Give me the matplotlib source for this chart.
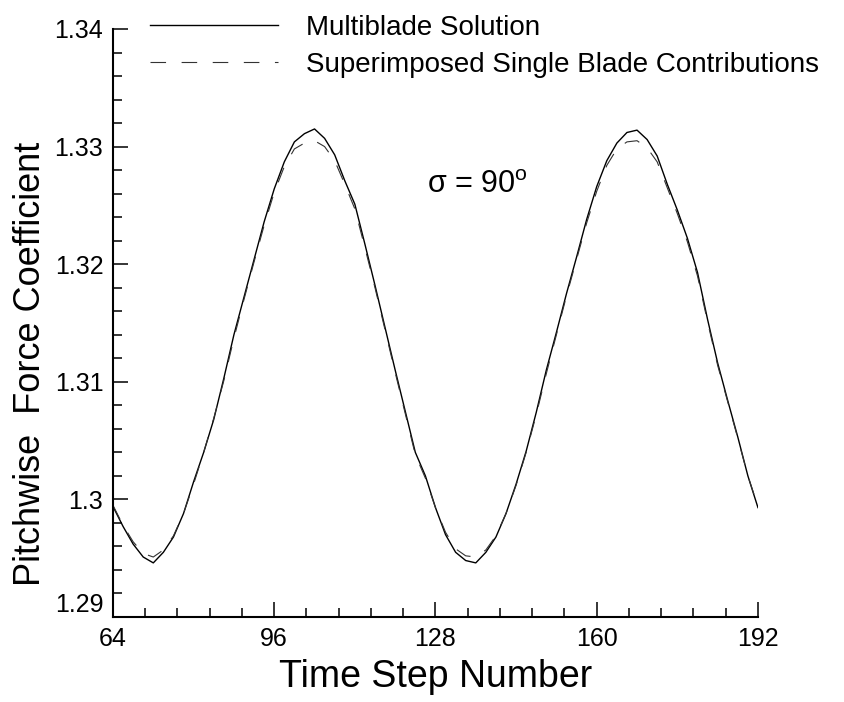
import numpy as np
import matplotlib.pyplot as plt
from matplotlib.ticker import MultipleLocator

plt.rcParams['font.family'] = ['Liberation Sans', 'DejaVu Sans']
plt.rcParams['mathtext.fontset'] = 'custom'
plt.rcParams['mathtext.rm'] = 'Liberation Sans'

# time steps (every 2 steps, 64..192)
steps = list(range(64, 193, 2))

multiblade = [
    1.2994, 1.2977, 1.2962, 1.2951, 1.2946, 1.2955, 1.2968, 1.2988,
    1.3015, 1.3040, 1.3068, 1.3103, 1.3140, 1.3172, 1.3204, 1.3236,
    1.3264, 1.3287, 1.3304, 1.3311, 1.3315, 1.3307, 1.3293, 1.3271,
    1.3251, 1.3217, 1.3182, 1.3146, 1.3110, 1.3075, 1.3040, 1.3020,
    1.2993, 1.2970, 1.2955, 1.2948, 1.2946, 1.2955, 1.2968, 1.2988,
    1.3013, 1.3041, 1.3074, 1.3110, 1.3142, 1.3175, 1.3206, 1.3238,
    1.3266, 1.3288, 1.3303, 1.3312, 1.3314, 1.3306, 1.3292, 1.3268,
    1.3246, 1.3222, 1.3193, 1.3153, 1.3116, 1.3084, 1.3053, 1.3020,
    1.2993,
]

superimposed = [
    1.2995, 1.2978, 1.2964, 1.2954, 1.2951, 1.2957, 1.2969, 1.2988,
    1.3013, 1.3040, 1.3069, 1.3101, 1.3137, 1.3170, 1.3202, 1.3233,
    1.3261, 1.3283, 1.3298, 1.3303, 1.3305, 1.3300, 1.3288, 1.3268,
    1.3247, 1.3214, 1.3180, 1.3144, 1.3108, 1.3073, 1.3038, 1.3018,
    1.2993, 1.2972, 1.2958, 1.2952, 1.2951, 1.2957, 1.2969, 1.2988,
    1.3012, 1.3040, 1.3072, 1.3107, 1.3140, 1.3173, 1.3204, 1.3235,
    1.3262, 1.3284, 1.3298, 1.3304, 1.3305, 1.3299, 1.3287, 1.3265,
    1.3243, 1.3219, 1.3190, 1.3151, 1.3114, 1.3083, 1.3052, 1.3020,
    1.2994,
]

fig = plt.figure(figsize=(8.45, 7.02), dpi=100)
ax = fig.add_axes([0.1337, 0.1211, 0.7633, 0.8376])

ax.plot(steps, multiblade, color='black', lw=1.0, label='Multiblade Solution')
ax.plot(steps, superimposed, color='#333333', lw=0.8, dashes=(14, 14),
        label='Superimposed Single Blade Contributions')

ax.set_xlim(64, 192)
ax.set_ylim(1.29, 1.34)
ax.set_xticks([64, 96, 128, 160, 192])
ax.set_yticks([1.29, 1.30, 1.31, 1.32, 1.33, 1.34])
ax.set_yticklabels(['1.29', '1.3', '1.31', '1.32', '1.33', '1.34'])
ax.xaxis.set_minor_locator(MultipleLocator(6.4))
ax.yaxis.set_minor_locator(MultipleLocator(0.002))

for s in ['top', 'right']:
    ax.spines[s].set_visible(False)
for s in ['left', 'bottom']:
    ax.spines[s].set_linewidth(1.5)

ax.tick_params(which='major', direction='in', length=11, width=1.1,
               labelsize=18, pad=7)
ax.tick_params(which='minor', direction='in', length=6.5, width=1.1)
# lowest y label sits above its tick, clear of the "64"
ax.get_yticklabels()[0].set_va('bottom')

ax.set_xlabel('Time Step Number', fontsize=27)
ax.set_ylabel('Pitchwise  Force Coefficient', fontsize=26)
ax.xaxis.set_label_coords(0.5, -0.072)
ax.yaxis.set_label_coords(-0.10, 0.43)

fig.text(427 / 845, 1 - 185 / 702, r'σ = 90$^{\mathrm{o}}$', fontsize=22,
         va='center')

fig.legend(loc='upper left', bbox_to_anchor=(150 / 845, 1 - 15 / 702),
           frameon=False, fontsize=20, handlelength=4.6, handletextpad=1.0,
           labelspacing=0.38, borderpad=0, borderaxespad=0)

fig.savefig('out.png', dpi=100)
